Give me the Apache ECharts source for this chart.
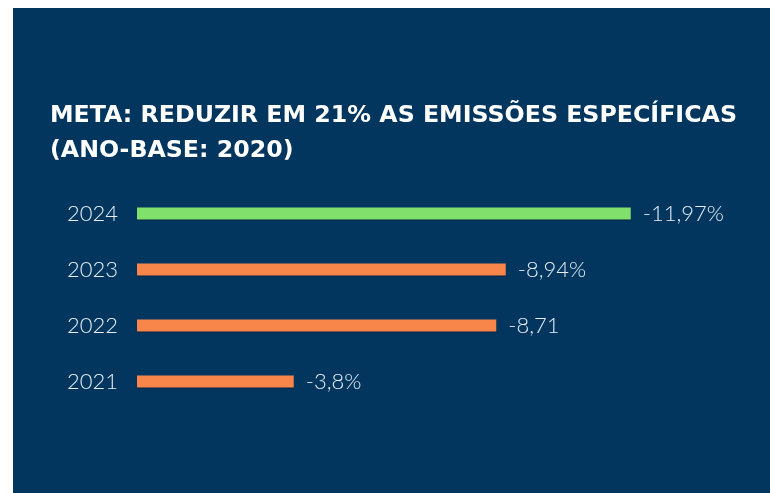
<!DOCTYPE html>
<html>
<head>
<meta charset="utf-8">
<style>
  html, body { margin: 0; padding: 0; background: #ffffff; }
  #chart { position: absolute; left: 13px; top: 8px; width: 757px; height: 485px; }
</style>
<script src="https://cdn.jsdelivr.net/npm/echarts@6/dist/echarts.min.js"></script>
</head>
<body>
<div id="chart"></div>
<script>
// Reduction of specific emissions by year (base year 2020)
const years = ['2021', '2022', '2023', '2024'];
const reductions = [3.8, 8.71, 8.94, 11.97];
const valueLabels = ['-3,8%', '-8,71', '-8,94%', '-11,97%'];
const barColors = ['#f8864a', '#f8864a', '#f8864a', '#80e06b'];

const titleLines = ['META: REDUZIR EM 21% AS EMISSÕES ESPECÍFICAS', '(ANO-BASE: 2020)'];

const chart = echarts.init(document.getElementById('chart'), null, { renderer: 'canvas' });

chart.setOption({
  backgroundColor: '#02365f',
  animation: false,
  title: {
    text: titleLines.join('\n'),
    left: 37,
    top: 90,
    padding: 0,
    textStyle: {
      color: '#ffffff',
      fontFamily: '"DejaVu Sans", sans-serif',
      fontWeight: 'bold',
      fontSize: 23.7,
      lineHeight: 35
    }
  },
  grid: {
    left: 124,
    width: 495,
    top: 177.5,
    height: 224
  },
  xAxis: {
    type: 'value',
    min: 0,
    max: 12,
    show: false
  },
  yAxis: {
    type: 'category',
    data: years,
    axisLine: { show: false },
    axisTick: { show: false },
    splitLine: { show: false },
    axisLabel: {
      margin: 19,
      color: '#e6edf5',
      fontFamily: 'Lato, "Noto Sans", sans-serif',
      fontWeight: 300,
      fontSize: 22
    }
  },
  series: [{
    type: 'bar',
    barWidth: 12,
    data: reductions.map((v, i) => ({
      value: v,
      itemStyle: { color: barColors[i] }
    })),
    itemStyle: {
      shadowColor: 'rgba(0,20,40,0.6)',
      shadowOffsetY: 1,
      shadowBlur: 0
    },
    label: {
      show: true,
      position: 'right',
      distance: 12,
      color: '#e6edf5',
      fontFamily: 'Lato, "Noto Sans", sans-serif',
      fontWeight: 300,
      fontSize: 22,
      formatter: p => valueLabels[p.dataIndex]
    }
  }]
});
</script>
</body>
</html>
